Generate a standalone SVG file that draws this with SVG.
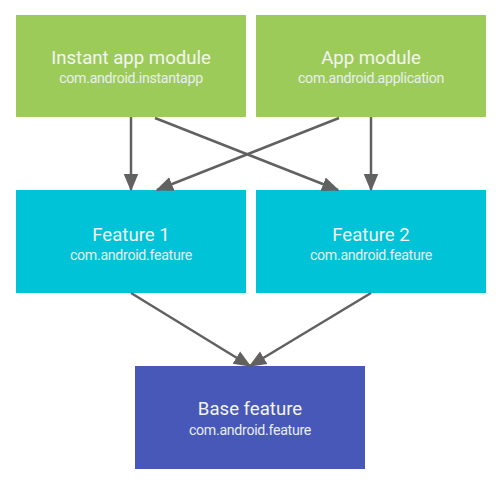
<svg xmlns="http://www.w3.org/2000/svg" width="504" height="493" viewBox="0 0 504 493">
<style>
.t{font-family:Roboto,"Liberation Sans",sans-serif;font-size:18.6px;fill:#f4f4f4;text-anchor:middle}
.s{font-family:Roboto,"Liberation Sans",sans-serif;font-size:14.2px;fill:#e8eef0;text-anchor:middle;letter-spacing:-0.3px}
.c{stroke:#616161;stroke-width:2.5;fill:none;marker-end:url(#a)}
</style>
<defs>
<marker id="a" markerWidth="7" markerHeight="7" refX="6.4" refY="3.5" orient="auto" markerUnits="strokeWidth" viewBox="0 0 7 7">
<path d="M0,0.6 L7,3.5 L0,6.4 z" fill="#616161"/>
</marker>
</defs>
<rect width="504" height="493" fill="#fff"/>
<g id="instant">
<rect x="16" y="15" width="230" height="102" fill="#9ccb5a"/>
<text class="t" x="131" y="63.5">Instant app module</text>
<text class="s" x="131" y="83">com.android.instantapp</text>
</g>
<g id="app">
<rect x="256" y="15" width="230" height="102" fill="#9ccb5a"/>
<text class="t" x="371" y="63.5">App module</text>
<text class="s" x="371" y="83">com.android.application</text>
</g>
<g id="feature1">
<rect x="16" y="190" width="230" height="103" fill="#00c3d7"/>
<text class="t" x="131" y="240.5">Feature 1</text>
<text class="s" x="131" y="259.5">com.android.feature</text>
</g>
<g id="feature2">
<rect x="256" y="190" width="230" height="103" fill="#00c3d7"/>
<text class="t" x="371" y="240.5">Feature 2</text>
<text class="s" x="371" y="259.5">com.android.feature</text>
</g>
<g id="base">
<rect x="135" y="366" width="230" height="103" fill="#4758b9"/>
<text class="t" x="250" y="415">Base feature</text>
<text class="s" x="250" y="435">com.android.feature</text>
</g>
<g id="connectors">
<path class="c" d="M131,117 L131,190"/>
<path class="c" d="M155,118 L338,190"/>
<path class="c" d="M339,118 L157,190"/>
<path class="c" d="M371,117 L371,190"/>
<path class="c" d="M131,293 L250,366"/>
<path class="c" d="M371,293 L250,366"/>
</g>
</svg>
